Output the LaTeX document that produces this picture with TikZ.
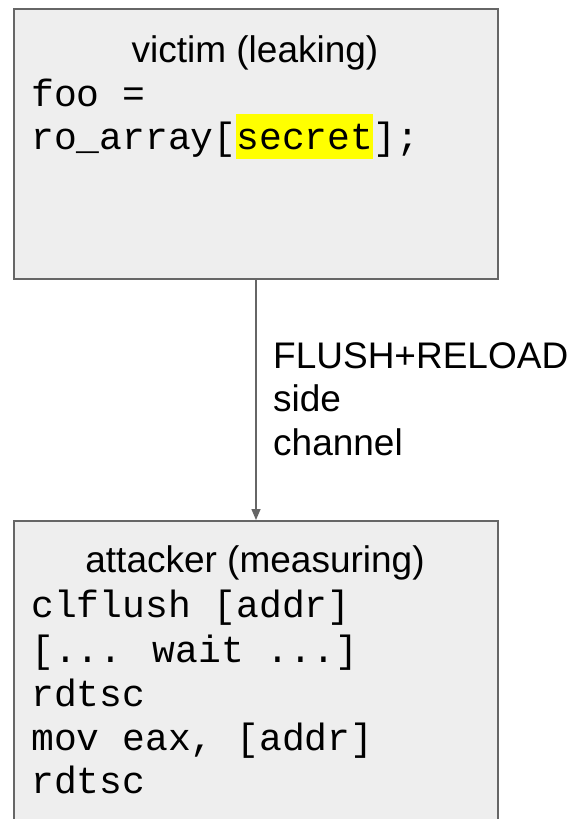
\documentclass[tikz,border=0pt]{standalone}
\usepackage{fontspec}
\setmainfont{Liberation Sans}
\newfontfamily\codefont{Liberation Mono}
\usetikzlibrary{arrows.meta}
\definecolor{boxfill}{HTML}{EEEEEE}
\definecolor{boxline}{HTML}{666666}
\definecolor{marker}{HTML}{FFFF00}
\begin{document}
\begin{tikzpicture}[x=1pt,y=-1pt,
  panel/.style={draw=boxline, line width=2pt, fill=boxfill, rectangle,
    minimum width=484pt, inner sep=0pt, anchor=north west},
  heading/.style={anchor=base, inner sep=0pt, font=\fontsize{37}{44}\selectfont},
  codeline/.style={anchor=base west, inner sep=0pt, font=\codefont\fontsize{38}{44}\selectfont},
  chanlabel/.style={anchor=base west, inner sep=0pt, align=left,
    font=\fontsize{37}{43.5}\selectfont},
  flow/.style={draw=boxline, line width=1.5pt, -{Triangle[width=9pt,length=11pt]}}
]
\useasboundingbox (0,0) rectangle (572,819);

% the two processes
\node[panel, minimum height=270pt] (victim) at (13,8) {};
\node[panel, minimum height=330pt] (attacker) at (13,520) {};

% victim code, with the secret index highlighted
\fill[marker] (236,114) rectangle (373,159);
\node[heading] (vtitle) at (255,62) {victim (leaking)};
\node[codeline] (v1) at (31,106) {foo =};
\node[codeline] (v2) at (31,149) {ro\_array[secret];};

% attacker code
\node[heading] (atitle) at (255,572) {attacker (measuring)};
\node[codeline] (a1) at (31,617) {clflush [addr]};
\node[codeline] (a2) at (31,662) {[... wait ...]};
\node[codeline] (a3) at (31,706) {rdtsc};
\node[codeline] (a4) at (31,750) {mov eax, [addr]};
\node[codeline] (a5) at (31,793) {rdtsc};

% the side channel between them (base anchor sits on the last line)
\draw[flow] (victim) -- (attacker);
\node[chanlabel] (chan) at (273,455) {FLUSH+RELOAD\\side\\channel};
\end{tikzpicture}
\end{document}
